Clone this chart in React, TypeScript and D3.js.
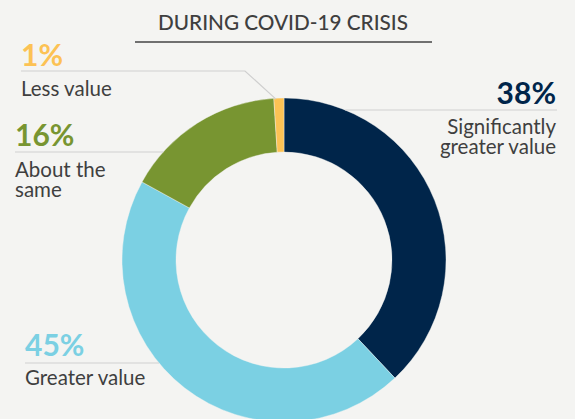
import React from "react";
import * as d3 from "d3";

const categories = ["Significantly greater value", "Greater value", "About the same", "Less value"];
const values = [38, 45, 16, 1];
const percentLabels = ["38%", "45%", "16%", "1%"];
const labelLines = [["Significantly", "greater value"], ["Greater value"], ["About the", "same"], ["Less value"]];
const colors = ["#00254a", "#7bd0e3", "#789531", "#fcc254"];
const title = "DURING COVID-19 CRISIS";

const W = 575;
const H = 419;
const cx = 284;
const cy = 260;
const R = 162;
const r0 = 108;

const layout = [
  { x: 556, pct: 104, line: 110, side: "right", lineEnd: 557, first: 134 },
  { x: 25, pct: 356, line: 363, side: "left", lineEnd: 25, first: 385 },
  { x: 15, pct: 146, line: 152, side: "left", lineEnd: 15, first: 177 },
  { x: 21, pct: 66, line: 71, side: "left", lineEnd: 21, first: 96 },
];

export default function App() {
  const pie = d3.pie<number>().sort(null).startAngle(0).endAngle(2 * Math.PI)(values);
  const arc = d3.arc<d3.PieArcDatum<number>>().innerRadius(r0).outerRadius(R);

  const circleX = (y: number, side: string) => {
    const dy = y - cy;
    const dx = Math.sqrt(Math.max(0, R * R - dy * dy));
    return side === "right" ? cx + dx : cx - dx;
  };

  return (
    <svg width={W} height={H} style={{ position: "absolute", left: 0, top: 0, background: "#f4f4f2" }}>
      <rect width={W} height={H} fill="#f4f4f2" />
      <text x={283} y={30} textAnchor="middle" fontFamily="Lato" fontWeight={500} fontSize={22} fill="#3f3f3f" textLength={250} lengthAdjust="spacingAndGlyphs">
        {title}
      </text>
      <line x1={135} x2={432} y1={42} y2={42} stroke="#444" strokeWidth={1.5} />
      <g transform={`translate(${cx},${cy})`}>
        {pie.map((d, i) => (
          <path key={categories[i]} d={arc(d) || ""} fill={colors[i]} stroke="#f4f4f2" strokeWidth={0.4} />
        ))}
      </g>
      {pie.map((d, i) => {
        const L = layout[i];
        let line: React.ReactNode;
        if (i === 3) {
          const mid = (d.startAngle + d.endAngle) / 2;
          const ex = cx + Math.sin(mid) * (R - 1) - 3;
          const ey = cy - Math.cos(mid) * (R - 1);
          line = (
            <polyline points={`${L.lineEnd},${L.line} 245,${L.line} ${ex},${ey}`} fill="none" stroke="#cfcfcf" strokeWidth={1.2} />
          );
        } else {
          const ex = circleX(L.line, L.side);
          line = <line x1={L.lineEnd} x2={ex} y1={L.line} y2={L.line} stroke="#cfcfcf" strokeWidth={1.2} />;
        }
        const anchor = L.side === "right" ? "end" : "start";
        return (
          <g key={categories[i]}>
            {line}
            <text x={L.x} y={L.pct} textAnchor={anchor} fontFamily="Lato" fontWeight={700} fontSize={30} fill={colors[i]}>
              {percentLabels[i]}
            </text>
            {labelLines[i].map((t, j) => (
              <text key={t} x={L.x} y={L.first + j * 20} textAnchor={anchor} fontFamily="Lato" fontSize={20.5} fill="#3f3f3f">
                {t}
              </text>
            ))}
          </g>
        );
      })}
    </svg>
  );
}
